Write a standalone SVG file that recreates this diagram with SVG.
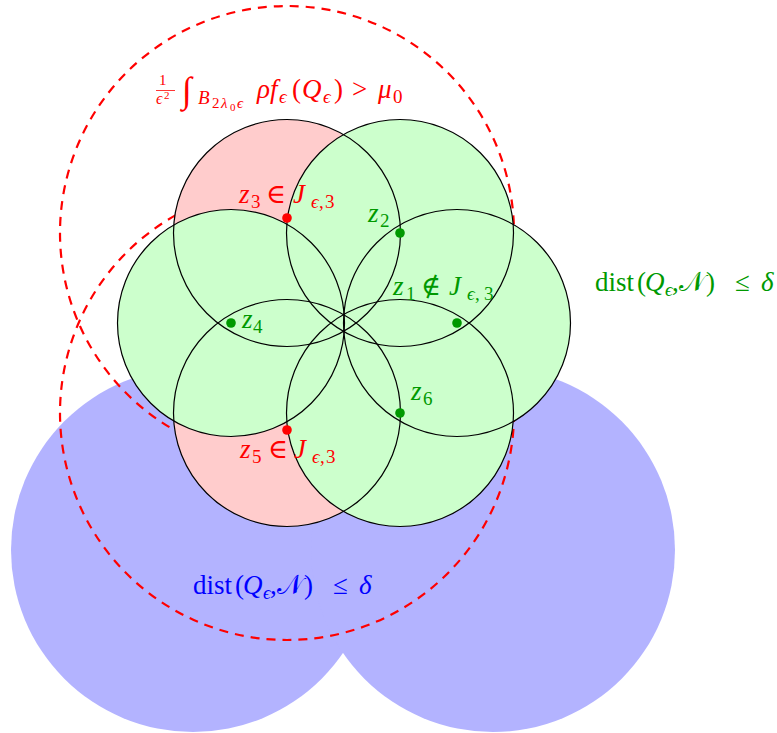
<svg xmlns="http://www.w3.org/2000/svg" width="777" height="733" viewBox="0 0 777 733">
<style>
.blue{fill:#b3b3ff;stroke:none}
.dash{fill:none;stroke:#ff0000;stroke-width:2.2;stroke-dasharray:9 7}
.pink{fill:#ffcccc;stroke:none}
.green{fill:#ccffcc;stroke:none}
.ol{fill:none;stroke:#000;stroke-width:1.2}
.rd{fill:#ff0000}
.gd{fill:#009900}
text{font-family:"Liberation Serif","DejaVu Serif",serif;font-size:27px}
.it{font-style:italic}
.s{font-size:19px}
.ss{font-size:15px}
.sss{font-size:11px}
.tr{fill:#ff0000}
.tg{fill:#009900}
.tb{fill:#0000ff}
</style>
<g id="blue-regions">
<circle class="blue" cx="193" cy="550" r="182"/>
<circle class="blue" cx="493" cy="550" r="182"/>
</g>
<g id="dashed-balls">
<circle class="dash" cx="287" cy="233" r="227"/>
<circle class="dash" cx="287" cy="413" r="227"/>
</g>
<g id="fills">
<circle class="pink" cx="287" cy="233" r="113.5"/>
<circle class="pink" cx="287" cy="413" r="113.5"/>
<circle class="green" cx="400" cy="233" r="113.5"/>
<circle class="green" cx="231" cy="323" r="113.5"/>
<circle class="green" cx="457" cy="323" r="113.5"/>
<circle class="green" cx="400" cy="413" r="113.5"/>
</g>
<g id="ball-z3"><circle class="ol" cx="287" cy="233" r="113.5"/></g>
<g id="ball-z5"><circle class="ol" cx="287" cy="413" r="113.5"/></g>
<g id="ball-z2"><circle class="ol" cx="400" cy="233" r="113.5"/></g>
<g id="ball-z4"><circle class="ol" cx="231" cy="323" r="113.5"/></g>
<g id="ball-z1"><circle class="ol" cx="457" cy="323" r="113.5"/></g>
<g id="ball-z6"><circle class="ol" cx="400" cy="413" r="113.5"/></g>
<g id="points">
<circle class="rd" cx="287" cy="218" r="4.8"/>
<circle class="rd" cx="287" cy="430" r="4.8"/>
<circle class="gd" cx="400" cy="233" r="4.8"/>
<circle class="gd" cx="231" cy="323" r="4.8"/>
<circle class="gd" cx="457" cy="323" r="4.8"/>
<circle class="gd" cx="400" cy="413" r="4.8"/>
</g>
<g id="label-integral">
<text class="tr"><tspan x="159" y="85" style="font-size:15px">1</tspan><tspan x="156" y="104" class="it" style="font-size:16px">ϵ</tspan><tspan x="164" y="99" style="font-size:11px">2</tspan><tspan x="182" y="102" style="font-size:36px">∫</tspan><tspan x="198" y="104" class="it s">B</tspan><tspan x="212" y="108" class="ss">2</tspan><tspan x="221" y="108" class="it ss">λ</tspan><tspan x="230" y="111" class="sss">0</tspan><tspan x="237" y="108" class="it ss">ϵ</tspan><tspan x="257" y="98" class="it">ρ</tspan><tspan x="270" y="98" class="it">f</tspan><tspan x="279" y="103" class="it s">ϵ</tspan><tspan x="292" y="98">(</tspan><tspan x="302" y="98" class="it">Q</tspan><tspan x="323" y="103" class="it s">ϵ</tspan><tspan x="334" y="98">)</tspan><tspan x="352" y="98">&gt;</tspan><tspan x="378" y="98" class="it">μ</tspan><tspan x="393" y="103" class="s">0</tspan></text>
<line x1="156" y1="90.5" x2="175" y2="90.5" stroke="#ff0000" stroke-width="0.8"/>
</g>
<g id="label-z3">
<text class="tr"><tspan x="239" y="203" class="it">z</tspan><tspan x="251" y="208" class="s">3</tspan><tspan x="266" y="203">∈</tspan><tspan x="293" y="203" class="it">J</tspan><tspan x="311" y="208" class="it s">ϵ</tspan><tspan x="319" y="208" class="s">,</tspan><tspan x="325" y="208" class="s">3</tspan></text>
</g>
<g id="label-z2"><text class="tg"><tspan x="368" y="222" class="it">z</tspan><tspan x="380" y="227" class="s">2</tspan></text></g>
<g id="label-z1">
<text class="tg"><tspan x="393" y="295" class="it">z</tspan><tspan x="406" y="300" class="s">1</tspan><tspan x="421" y="295">∉</tspan><tspan x="449" y="295" class="it">J</tspan><tspan x="467" y="300" class="it s">ϵ</tspan><tspan x="475" y="300" class="s">,</tspan><tspan x="484" y="300" class="s">3</tspan></text>
</g>
<g id="label-z4"><text class="tg"><tspan x="242" y="328" class="it">z</tspan><tspan x="253" y="333" class="s">4</tspan></text></g>
<g id="label-z6"><text class="tg"><tspan x="411" y="400" class="it">z</tspan><tspan x="423" y="405" class="s">6</tspan></text></g>
<g id="label-z5">
<text class="tr"><tspan x="240" y="458" class="it">z</tspan><tspan x="252" y="463" class="s">5</tspan><tspan x="268" y="458">∈</tspan><tspan x="294" y="458" class="it">J</tspan><tspan x="312" y="463" class="it s">ϵ</tspan><tspan x="320" y="463" class="s">,</tspan><tspan x="326" y="463" class="s">3</tspan></text>
</g>
<g id="label-dist-green">
<text class="tg"><tspan x="595" y="291">dist</tspan><tspan x="637" y="291">(</tspan><tspan x="645" y="291" class="it">Q</tspan><tspan x="665" y="296" class="it s">ϵ</tspan><tspan x="672" y="291">,</tspan><tspan x="679" y="291">𝒩</tspan><tspan x="706" y="291">)</tspan><tspan x="735" y="291">≤</tspan><tspan x="761" y="291" class="it">δ</tspan></text>
</g>
<g id="label-dist-blue">
<text class="tb"><tspan x="193" y="594">dist</tspan><tspan x="235" y="594">(</tspan><tspan x="243" y="594" class="it">Q</tspan><tspan x="263" y="599" class="it s">ϵ</tspan><tspan x="270" y="594">,</tspan><tspan x="277" y="594">𝒩</tspan><tspan x="304" y="594">)</tspan><tspan x="333" y="594">≤</tspan><tspan x="359" y="594" class="it">δ</tspan></text>
</g>
</svg>
